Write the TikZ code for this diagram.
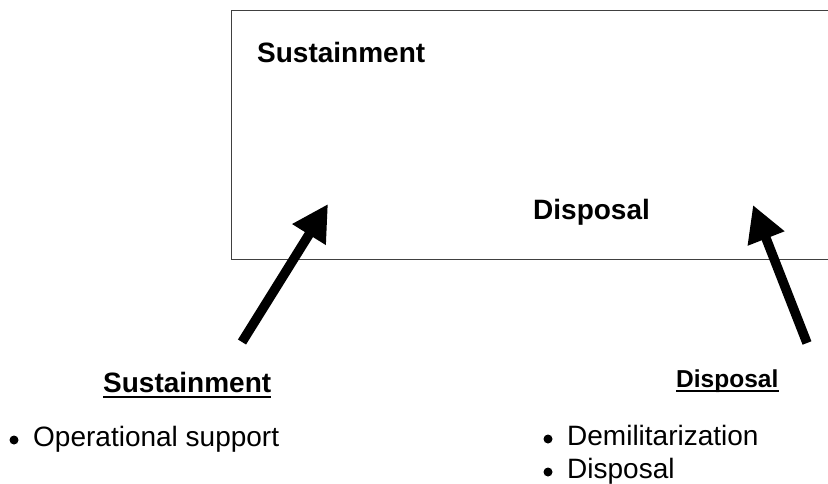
\documentclass[tikz,border=0pt]{standalone}
\usepackage{fontspec}
\setmainfont{Liberation Sans}
\usetikzlibrary{arrows.meta,positioning}

\begin{document}
\begin{tikzpicture}[x=1pt,y=-1pt,
    phase/.style={font=\fontsize{28}{32}\selectfont\bfseries,anchor=base west,inner sep=0pt},
    head/.style={font=\fontsize{28}{32}\selectfont\bfseries,anchor=base west,inner sep=0pt},
    item/.style={font=\fontsize{28}{32}\selectfont,anchor=base west,inner sep=0pt},
    dot/.style={circle,fill=black,inner sep=0pt,minimum size=9pt},
    uline/.style={line width=2.5pt},
    bigarrow/.style={-{Triangle[length=36pt,width=37pt]},line width=9.5pt}]
    \useasboundingbox (0,0) rectangle (828,483);
    % frame, open on the right
    \draw[black!75,line width=1pt] (828,10) -- (231,10) -- (231,259) -- (828,259);
    \node[phase] (inSus) at (257,62) {Sustainment};
    \node[phase] (inDis) at (533,219) {Disposal};
    % left side
    \node[head] (susHead) at (103,392) {Sustainment};
    \draw[uline] ([yshift=-5pt]susHead.base west) -- ([yshift=-5pt]susHead.base east);
    \node[dot] (susDot) at (14,440) {};
    \node[item] (opSup) at (33,446) {Operational support};
    % right side
    \node[head,font=\fontsize{24.5}{28}\selectfont\bfseries] (disHead) at (676,387) {Disposal};
    \draw[uline,line width=2pt] ([yshift=-4pt]disHead.base west) -- ([yshift=-4pt]disHead.base east);
    \node[dot] (demDot) at (548,439) {};
    \node[item] (demil) at (567,445) {Demilitarization};
    \node[dot] (disDot) at (548,472) {};
    \node[item] (dispo) at (567,478) {Disposal};
    % arrows into the box
    \coordinate (susTail) at (242,342);
    \coordinate (susTip) at (328,204);
    \coordinate (disTail) at (807,343);
    \coordinate (disTip) at (753,205);
    \draw[bigarrow] (susTail) -- (susTip);
    \draw[bigarrow] (disTail) -- (disTip);
\end{tikzpicture}
\end{document}
